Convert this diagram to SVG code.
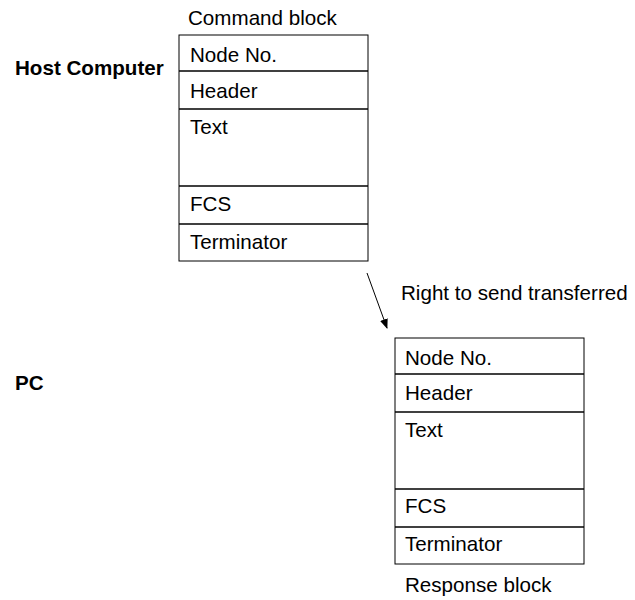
<svg xmlns="http://www.w3.org/2000/svg" width="635" height="600" viewBox="0 0 635 600">
<style>
text{font-family:"Liberation Sans",Arial,sans-serif;font-size:20.6px;fill:#000}
.b{font-weight:bold}
.box{fill:#fff;stroke:#000;stroke-width:1}
.ln{stroke:#000;stroke-width:1.5}
</style>
<defs>
<marker id="ah" markerWidth="10" markerHeight="8" refX="9" refY="4" orient="auto" markerUnits="userSpaceOnUse">
<path d="M0,0 L10,4 L0,8 z" fill="#000"/>
</marker>
</defs>
<rect width="635" height="600" fill="#fff"/>
<text class="b" x="15" y="75">Host Computer</text>
<text class="b" x="15" y="390">PC</text>
<g id="command">
<text x="188" y="25">Command block</text>
<rect class="box" x="179" y="35" width="189" height="226"/>
<line class="ln" x1="179" y1="71" x2="368" y2="71"/>
<line class="ln" x1="179" y1="109" x2="368" y2="109"/>
<line class="ln" x1="179" y1="186" x2="368" y2="186"/>
<line class="ln" x1="179" y1="224" x2="368" y2="224"/>
<text x="190" y="62">Node No.</text>
<text x="190" y="98">Header</text>
<text x="190" y="134">Text</text>
<text x="190" y="211">FCS</text>
<text x="190" y="249">Terminator</text>
</g>
<g id="response">
<rect class="box" x="395" y="338" width="189" height="226"/>
<line class="ln" x1="395" y1="374" x2="584" y2="374"/>
<line class="ln" x1="395" y1="412" x2="584" y2="412"/>
<line class="ln" x1="395" y1="489" x2="584" y2="489"/>
<line class="ln" x1="395" y1="527" x2="584" y2="527"/>
<text x="405" y="365">Node No.</text>
<text x="405" y="400">Header</text>
<text x="405" y="437">Text</text>
<text x="405" y="513">FCS</text>
<text x="405" y="551">Terminator</text>
<text x="405" y="592">Response block</text>
</g>
<g id="connectors">
<line x1="367" y1="273" x2="387" y2="328" stroke="#000" stroke-width="1" marker-end="url(#ah)"/>
<text x="401" y="300">Right to send transferred</text>
</g>
</svg>
